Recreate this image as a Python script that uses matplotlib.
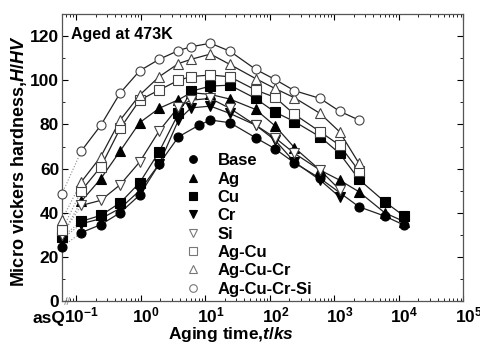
import matplotlib
matplotlib.use("Agg")
import matplotlib.pyplot as plt
import numpy as np
from matplotlib.ticker import LogLocator, MultipleLocator, NullFormatter
from matplotlib.transforms import ScaledTranslation

plt.rcParams["font.family"] = ["Liberation Sans", "DejaVu Sans"]
plt.rcParams["font.weight"] = "bold"
plt.rcParams["mathtext.fontset"] = "custom"
plt.rcParams["mathtext.rm"] = "Liberation Sans:bold"
plt.rcParams["mathtext.it"] = "Liberation Sans:italic:bold"
plt.rcParams["mathtext.bf"] = "Liberation Sans:bold"

# aging times in ks, "asQ" is the as-quenched state drawn on the left axis
t_std = [0.12, 0.24, 0.48, 0.96, 1.92, 3.84, 6, 12, 24, 60, 120, 240, 600, 1200, 2400, 6000, 12000]
t_base = [0.12, 0.24, 0.48, 0.96, 1.92, 3.84, 8, 12, 24, 60, 120, 240, 600, 2400, 6000, 12000]

base_asq = 24.5
base_hv = [31, 34.6, 40, 48, 62, 74.4, 79.7, 82, 80.8, 74, 69, 62.6, 55.6, 42.7, 38.5, 34.4]
ag_asq = 30
ag_hv = [45.2, 55.4, 68, 80.8, 87.3, 91.2, 94.4, 93.6, 91.5, 86.8, 79.4, 69.5, 59.3, 54.8, 49.5, 40, 36]
cu_asq = 29
cu_hv = [36.1, 38.8, 44.5, 53.6, 67.6, 85, 95, 97.4, 97.8, 91.8, 85.6, 81.3, 74.4, 66.9, 55.1, 45, 38.5]
cr_asq = 28
cr_hv = [35, 37.3, 42, 50, 62, 82, 87.5, 88.3, 85, 79.7, 72.9, 63, 54.8, 47.2]
si_asq = 30
si_hv = [43.3, 45.6, 52.7, 63, 77, 88, 91, 91.8, 87.3, 79.7, 74, 66.9, 59.3, 50.5]
agcu_asq = 32
agcu_hv = [50, 60.8, 78.2, 91, 95.6, 100, 101.7, 102.4, 101.6, 95.6, 92.3, 84.6, 76.7, 70.6, 59]
agcucr_asq = 36.8
agcucr_hv = [54, 65.4, 82, 93.3, 101.6, 107.6, 109.5, 111.9, 107.2, 100.8, 96.3, 92.1, 85, 76.7, 62.4]
agcucrsi_asq = 48.5
agcucrsi_hv = [68, 79.6, 94.3, 104.3, 109.5, 113.5, 115.2, 116.8, 113.2, 105, 100.4, 95.3, 91.8, 86, 82]

labels = ["Base", "Ag", "Cu", "Cr", "Si", "Ag-Cu", "Ag-Cu-Cr", "Ag-Cu-Cr-Si"]
markers = ["o", "^", "s", "v", "v", "s", "^", "o"]
filled = [True, True, True, True, False, False, False, False]

series = [
    (t_base, base_asq, base_hv),
    (t_std, ag_asq, ag_hv),
    (t_std, cu_asq, cu_hv),
    (t_std, cr_asq, cr_hv),
    (t_std, si_asq, si_hv),
    (t_std, agcu_asq, agcu_hv),
    (t_std, agcucr_asq, agcucr_hv),
    (t_std, agcucrsi_asq, agcucrsi_hv),
]

x_asq = 0.06
x_major = [1e-1, 1e0, 1e1, 1e2, 1e3, 1e4, 1e5]

fig = plt.figure(figsize=(4.8, 3.44), dpi=100)
ax = fig.add_axes([0.129, 0.125, 0.8366, 0.834])

handles = []
for (t, asq, hv), lab, m, f in zip(series, labels, markers, filled):
    t = t[:len(hv)]
    fc = "black" if f else "white"
    ec = "black" if f else "#444444"
    # dotted link from the as-quenched value to the first aging point
    ax.plot([x_asq, t[0]], [asq, hv[0]], ls=":", color="#888888", lw=0.8, zorder=1)
    ax.plot(t, hv, "-", color="#222222", lw=0.9, zorder=2)
    ax.plot(t, hv, ls="none", marker=m, ms=6.5, mfc=fc, mec=ec, mew=0.8, zorder=3)
    ax.plot([x_asq], [asq], ls="none", marker=m, ms=6.5, mfc=fc, mec=ec, mew=0.8,
            zorder=4, clip_on=False)
    h, = ax.plot([], [], ls="none", marker=m, ms=5.5, mfc=fc,
                 mec="black" if f else "#777777", mew=0.8)
    handles.append(h)

ax.set_xscale("log")
ax.set_xlim(x_asq, 1e5)
ax.set_ylim(0, 130)
ax.set_xticks(x_major)
ax.xaxis.set_minor_locator(LogLocator(base=10, subs=np.arange(2, 10), numticks=20))
ax.xaxis.set_minor_formatter(NullFormatter())
ax.yaxis.set_major_locator(MultipleLocator(20))
ax.yaxis.set_minor_locator(MultipleLocator(10))
ax.tick_params(which="both", direction="in", top=True, right=True, labelsize=12.5)
ax.tick_params(which="major", length=4)
ax.tick_params(which="minor", length=2.5)
ax.tick_params(axis="x", pad=3)
ax.tick_params(axis="y", pad=2)
for s in ax.spines.values():
    s.set_color("#555555")
    s.set_linewidth(0.9)

shift = ScaledTranslation(4 / 72, 0, fig.dpi_scale_trans)
for lab in ax.get_xticklabels():
    lab.set_transform(lab.get_transform() + shift)

ax.set_xlabel("Aging time,$t/ks$", fontsize=12.5, fontweight="bold")
ax.xaxis.set_label_coords(0.421, -0.085)
ax.set_ylabel("Micro vickers hardness,$H/HV$", fontsize=13, fontweight="bold")
ax.yaxis.set_label_coords(-0.082, 0.488)
ax.text(0.023, 0.955, "Aged at 473K", transform=ax.transAxes, fontsize=11.5,
        fontweight="bold", va="top", ha="left")
ax.text(0.008, -0.035, "asQ", transform=ax.transAxes, fontsize=12.5,
        fontweight="bold", va="top", ha="right")

# axis break mark near the as-quenched position
for dx in (0.0, 0.006):
    ax.plot([0.007 + dx, 0.013 + dx], [-0.012, 0.012], transform=ax.transAxes,
            color="#999999", lw=0.7, clip_on=False)

ax.legend(handles, labels, loc="upper left", bbox_to_anchor=(0.284, 0.538),
          frameon=False, fontsize=12, handlelength=1.2, handletextpad=0.9,
          labelspacing=0.2, borderaxespad=0.0)

fig.savefig("out.png", dpi=100)
